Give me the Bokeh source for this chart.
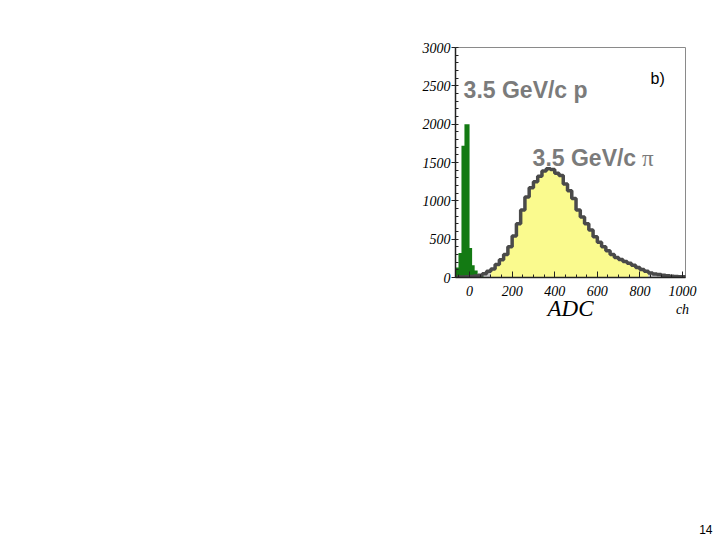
from bokeh.plotting import figure
from bokeh.models import Range1d, Label, FixedTicker, Title
from bokeh.embed import file_html
from bokeh.resources import INLINE

# ---- data ----
# proton (green) histogram: bin edges and counts
p_edges = [-80, -66, -52, -38, -24, -12, 0, 12, 24, 38, 52, 66]
p_counts = [110, 130, 320, 1720, 2000, 2000, 385, 160, 90, 40, 15]

# pion (yellow) histogram: left bin edges (width 20) and counts
pi_left = [-60, -40, -20, 0, 20, 40, 60, 80, 100, 120, 140, 160, 180, 200, 220, 240,
           260, 280, 300, 320, 340, 360, 380, 400, 420, 440, 460, 480, 500, 520, 540,
           560, 580, 600, 620, 640, 660, 680, 700, 720, 740, 760, 780, 800, 820, 840,
           860, 880, 900, 920, 940, 960, 980, 1000]
pi_counts = [5, 8, 10, 12, 18, 30, 50, 80, 110, 170, 230, 300, 400, 540, 700, 880,
             1050, 1170, 1250, 1320, 1390, 1420, 1410, 1360, 1330, 1220, 1130, 1030, 880, 790, 700,
             620, 530, 460, 400, 350, 300, 260, 235, 210, 185, 160, 130, 105, 80, 60,
             45, 38, 30, 22, 16, 12, 10, 10]
bin_w = 20

x_ticks = [0, 200, 400, 600, 800, 1000]
x_tick_labels = {1000: "1000\nch"}
y_ticks = [0, 500, 1000, 1500, 2000, 2500, 3000]

W, H = 720, 540
p = figure(width=W, height=H, output_backend="svg", toolbar_location=None,
           x_range=Range1d(-66, 1014), y_range=Range1d(0, 3000),
           min_border_left=455, min_border_right=35, min_border_top=47, min_border_bottom=263)
p.grid.visible = False
p.background_fill_color = "white"
p.border_fill_color = "white"
p.outline_line_color = "#8a8a8a"
p.outline_line_width = 1

# pion fill: yellow in the main body, light gray in the tails
edges_all = pi_left + [pi_left[-1] + bin_w]
cnt_all = pi_counts + [pi_counts[-1]]
lo_i = pi_left.index(100)
hi_i = pi_left.index(840)
p.varea_step(x=edges_all[:lo_i + 1], y1=[0] * (lo_i + 1), y2=cnt_all[:lo_i + 1],
             step_mode="after", fill_color="#c8c8c8")
p.varea_step(x=edges_all[lo_i:hi_i + 1], y1=[0] * (hi_i - lo_i + 1), y2=cnt_all[lo_i:hi_i + 1],
             step_mode="after", fill_color="#fafa8e")
p.varea_step(x=edges_all[hi_i:], y1=[0] * (len(edges_all) - hi_i), y2=cnt_all[hi_i:],
             step_mode="after", fill_color="#c8c8c8")

# proton histogram
p.varea_step(x=p_edges, y1=[0] * len(p_edges), y2=p_counts + [p_counts[-1]],
             step_mode="after", fill_color="#137a13")

# pion outline
p.step(x=edges_all, y=cnt_all, mode="after", line_color="#4a4a4a", line_width=3.5)

# axes
for ax in (p.xaxis[0], p.yaxis[0]):
    ax.major_label_text_font = "Liberation Serif"
    ax.major_label_text_font_style = "italic"
    ax.major_label_text_font_size = "14px"
    ax.major_label_text_color = "black"
    ax.axis_line_color = "#222222"
    ax.axis_line_width = 1.5
    ax.major_tick_line_color = "#222222"
    ax.minor_tick_line_color = "#222222"

p.xaxis.ticker = FixedTicker(ticks=x_ticks, minor_ticks=[v for v in range(-50, 1001, 50)])
p.xaxis.major_label_overrides = x_tick_labels
p.yaxis.ticker = FixedTicker(ticks=y_ticks, minor_ticks=[v for v in range(0, 3001, 100)])
p.xaxis.major_tick_in = 6
p.xaxis.major_tick_out = 0
p.xaxis.minor_tick_in = 3
p.xaxis.minor_tick_out = 0
p.xaxis.major_label_standoff = 6
p.yaxis.major_tick_in = 0
p.yaxis.major_tick_out = 4
p.yaxis.minor_tick_in = 3
p.yaxis.minor_tick_out = 0
p.yaxis.major_label_standoff = 1

p.xaxis.axis_label = "ADC"
p.xaxis.axis_label_text_font = "Liberation Serif"
p.xaxis.axis_label_text_font_style = "italic"
p.xaxis.axis_label_text_font_size = "23px"
p.xaxis.axis_label_text_color = "black"
p.xaxis.axis_label_standoff = -24

# spacer panel, then the page number at the bottom right of the page
p.add_layout(Title(text=" ", standoff=196, text_font_size="1px"), "below")
p.add_layout(Title(text="14", align="right", offset=-27, standoff=0,
                   text_font="Liberation Sans", text_font_style="normal",
                   text_font_size="12px", text_color="black"), "below")

# annotations inside the frame
gray = "#7b7b7b"
p.add_layout(Label(x=-28, y=2280, text="3.5 GeV/c p", text_font="Liberation Sans",
                   text_font_style="bold", text_font_size="23px", text_color=gray))
p.add_layout(Label(x=296, y=1390, text="3.5 GeV/c", text_font="Liberation Sans",
                   text_font_style="bold", text_font_size="23px", text_color=gray))
p.add_layout(Label(x=810, y=1390, text="π", text_font="Liberation Serif",
                   text_font_size="23px", text_color=gray))
p.add_layout(Label(x=850, y=2490, text="b)", text_font="Liberation Sans",
                   text_font_size="16px", text_color="black"))

open("out.html", "w").write(file_html(p, INLINE))
